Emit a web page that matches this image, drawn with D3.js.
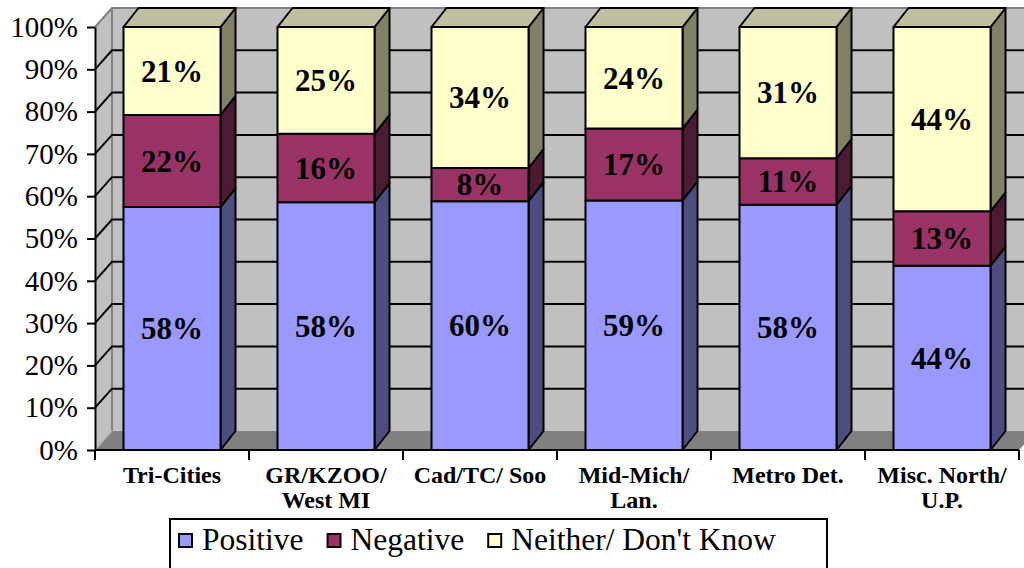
<!DOCTYPE html>
<html>
<head>
<meta charset="utf-8">
<script src="https://cdn.jsdelivr.net/npm/d3@7"></script>
<style>
  body { margin: 0; background: #fff; }
  svg text { font-family: "Liberation Serif", "Times New Roman", Times, "DejaVu Serif", serif; }
</style>
</head>
<body>
<div id="chart"></div>
<script>
const categories = ["Tri-Cities", "GR/KZOO/ West MI", "Cad/TC/ Soo", "Mid-Mich/ Lan.", "Metro Det.", "Misc. North/ U.P."];
const categoryLines = [["Tri-Cities"], ["GR/KZOO/", "West MI"], ["Cad/TC/ Soo"], ["Mid-Mich/", "Lan."], ["Metro Det."], ["Misc. North/", "U.P."]];
const seriesNames = ["Positive", "Negative", "Neither/ Don't Know"];
const positive = [58, 58, 60, 59, 58, 44];
const negative = [22, 16, 8, 17, 11, 13];
const neither = [21, 25, 34, 24, 31, 44];
const yTicks = [0, 0.1, 0.2, 0.3, 0.4, 0.5, 0.6, 0.7, 0.8, 0.9, 1];

const front = ["#9999ff", "#993366", "#ffffcc"];
const side = ["#4d4d80", "#4d1a33", "#808066"];
const topFace = "#c0c0a0";

const width = 1024, height = 568;
const wallDx = 17, wallDy = 19;   // depth of walls/floor
const barDx = 15, barDy = 19;     // depth of the bars

const svg = d3.select("#chart").append("svg")
    .attr("width", width)
    .attr("height", height);

const x = d3.scaleBand()
    .domain(categories)
    .range([95, 1019]);

const y = d3.scaleLinear()
    .domain([0, 1])
    .range([450, 27]);

const barW = x.bandwidth() * 0.63;

const rows = categories.map((c, i) => ({
    category: c,
    [seriesNames[0]]: positive[i],
    [seriesNames[1]]: negative[i],
    [seriesNames[2]]: neither[i],
    raw: [positive[i], negative[i], neither[i]]
}));

const stacked = d3.stack()
    .keys(seriesNames)
    .offset(d3.stackOffsetExpand)(rows);

const [xl, xr] = x.range();
const y0 = y(0), y1 = y(1);

// back wall
svg.append("rect")
    .attr("x", xl + wallDx).attr("y", y1 - wallDy)
    .attr("width", xr - xl).attr("height", y0 - y1)
    .attr("fill", "#c0c0c0");

// left side wall
svg.append("polygon")
    .attr("points", [[xl, y1], [xl + wallDx, y1 - wallDy], [xl + wallDx, y0 - wallDy], [xl, y0]].join(" "))
    .attr("fill", "#c0c0c0");

// floor
svg.append("polygon")
    .attr("points", [[xl, y0], [xr, y0], [xr + wallDx, y0 - wallDy], [xl + wallDx, y0 - wallDy]].join(" "))
    .attr("fill", "#808080");

// wall edges
svg.append("path")
    .attr("d", `M${xl},${y1}L${xl + wallDx},${y1 - wallDy}H${xr + wallDx + 20}M${xl + wallDx},${y1 - wallDy}V${y0 - wallDy}`)
    .attr("fill", "none")
    .attr("stroke", "#808080")
    .attr("stroke-width", 2);
svg.append("line")
    .attr("x1", xl).attr("y1", y0)
    .attr("x2", xl + wallDx).attr("y2", y0 - wallDy)
    .attr("stroke", "#b0b0b0")
    .attr("stroke-width", 1.5);

// gridlines
const grid = yTicks.filter(t => t > 0 && t < 1);
svg.append("g").selectAll("path")
    .data(grid)
    .join("path")
    .attr("d", t => `M${xl},${y(t)}L${xl + wallDx},${y(t) - wallDy}H${xr + wallDx + 20}`)
    .attr("fill", "none")
    .attr("stroke", "#000")
    .attr("stroke-width", 2);

// bars
const bars = svg.append("g")
    .attr("stroke", "#000")
    .attr("stroke-width", 2)
    .attr("stroke-linejoin", "round");

stacked.forEach((series, si) => {
    const g = bars.append("g");
    series.forEach(d => {
        const cx = x(d.data.category) + x.bandwidth() / 2;
        const a = cx - barW / 2, b = cx + barW / 2;
        const ya = y(d[0]), yb = y(d[1]);
        g.append("polygon")
            .attr("points", [[b, yb], [b + barDx, yb - barDy], [b + barDx, ya - barDy], [b, ya]].join(" "))
            .attr("fill", side[si]);
        if (si === seriesNames.length - 1) {
            g.append("polygon")
                .attr("points", [[a, yb], [a + barDx, yb - barDy], [b + barDx, yb - barDy], [b, yb]].join(" "))
                .attr("fill", topFace);
        }
        g.append("rect")
            .attr("x", a).attr("y", yb)
            .attr("width", barW).attr("height", ya - yb)
            .attr("fill", front[si]);
    });
});

// value labels
stacked.forEach((series, si) => {
    svg.append("g").selectAll("text")
        .data(series)
        .join("text")
        .attr("x", d => x(d.data.category) + x.bandwidth() / 2)
        .attr("y", d => (y(d[0]) + y(d[1])) / 2)
        .attr("dy", "0.35em")
        .attr("text-anchor", "middle")
        .attr("font-size", 31)
        .attr("font-weight", "bold")
        .text(d => d.data.raw[si] + "%");
});

// y axis
const yAxis = svg.append("g")
    .attr("transform", `translate(${xl},0)`)
    .call(d3.axisLeft(y).tickValues(yTicks).tickFormat(d3.format(".0%"))
        .tickSize(8).tickSizeOuter(0).tickPadding(9));
yAxis.attr("font-family", null);
yAxis.select(".domain").attr("stroke-width", 2);
yAxis.selectAll(".tick line").attr("stroke-width", 2);
yAxis.selectAll(".tick text")
    .attr("font-size", 29)
    .attr("fill", "#000");

// x axis
const bounds = categories.map(c => x(c)).concat([xr]);
svg.append("line")
    .attr("x1", xl).attr("x2", xr)
    .attr("y1", y0).attr("y2", y0)
    .attr("stroke", "#000").attr("stroke-width", 2);
svg.append("g").selectAll("line")
    .data(bounds)
    .join("line")
    .attr("x1", d => d).attr("x2", d => d)
    .attr("y1", y0).attr("y2", y0 + 10)
    .attr("stroke", "#000").attr("stroke-width", 2);

svg.append("g").selectAll("text")
    .data(categories)
    .join("text")
    .attr("text-anchor", "middle")
    .attr("font-size", 24)
    .attr("font-weight", "bold")
    .each(function (c, i) {
        d3.select(this).selectAll("tspan")
            .data(categoryLines[i])
            .join("tspan")
            .attr("x", x(c) + x.bandwidth() / 2)
            .attr("y", (l, j) => 483 + j * 25)
            .text(l => l);
    });

// legend
const legend = svg.append("g");
legend.append("rect")
    .attr("x", 170).attr("y", 519)
    .attr("width", 657).attr("height", 80)
    .attr("fill", "#fff")
    .attr("stroke", "#000").attr("stroke-width", 2);

let lx = 179;
seriesNames.forEach((name, i) => {
    legend.append("rect")
        .attr("x", lx).attr("y", 534)
        .attr("width", 13).attr("height", 13)
        .attr("fill", front[i])
        .attr("stroke", "#000").attr("stroke-width", 2);
    const t = legend.append("text")
        .attr("x", lx + 23).attr("y", 550)
        .attr("font-size", 31.5)
        .text(name);
    lx += 23 + t.node().getComputedTextLength() + 24;
});
</script>
</body>
</html>
